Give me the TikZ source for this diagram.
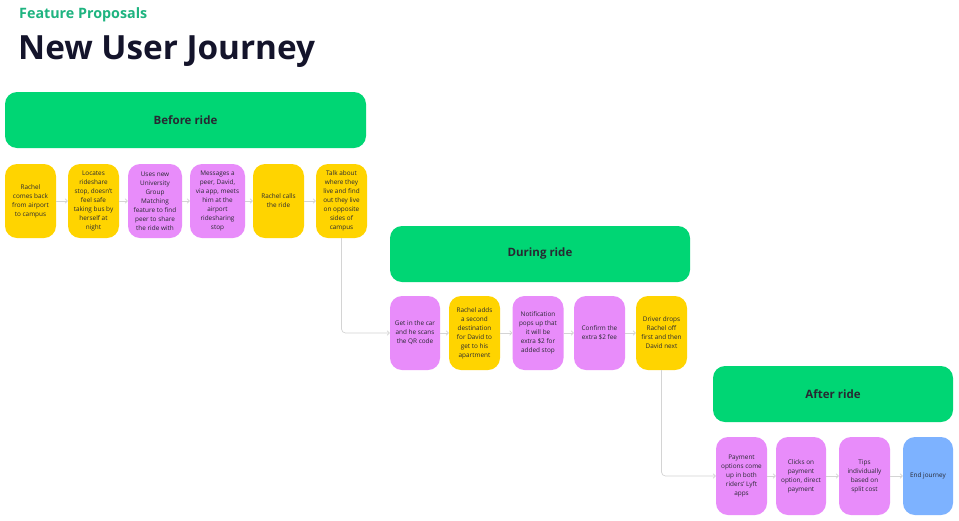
\documentclass[tikz,border=0pt]{standalone}
\usepackage{fontspec}
\setmainfont{Open Sans}
\newfontfamily\titlefont{Open Sans}
\usetikzlibrary{arrows.meta}
\definecolor{bargreen}{RGB}{0,214,116}
\definecolor{cardyellow}{RGB}{255,212,0}
\definecolor{cardpink}{RGB}{232,140,250}
\definecolor{cardblue}{RGB}{125,178,255}
\definecolor{titledark}{RGB}{20,20,43}
\definecolor{subgreen}{RGB}{30,180,128}
\definecolor{textdark}{RGB}{40,40,50}
\definecolor{connline}{RGB}{212,212,212}
\tikzset{
  phasebar/.style={fill=bargreen, draw=none, rounded corners=12pt, inner sep=0pt,
    font=\fontsize{11.5}{14}\selectfont\bfseries, text=textdark},
  card/.style={draw=none, rounded corners=12pt, inner sep=0pt, minimum height=74pt,
    align=center, font=\fontsize{6.4}{9}\selectfont, text=textdark},
  ycard/.style={card, fill=cardyellow},
  pcard/.style={card, fill=cardpink},
  bcard/.style={card, fill=cardblue},
  conn/.style={draw=connline, line width=0.7pt, -{Straight Barb[length=2.2pt,width=4.5pt]}},
}
\begin{document}
\begin{tikzpicture}[x=1pt,y=-1pt]
\useasboundingbox[fill=white] (0,0) rectangle (959,520);
\node[anchor=base west, inner sep=0pt, text=subgreen, font=\titlefont\fontsize{14.3}{16}\selectfont\bfseries] (sub) at (19,18) {Feature Proposals};
\node[anchor=base west, inner sep=0pt, text=titledark, font=\titlefont\fontsize{33.3}{38}\selectfont\bfseries] (title) at (18,59.5) {New User Journey};

% phase bars
\node[phasebar, minimum width=361pt, minimum height=56pt] (pb) at (185.5,120) {Before ride};
\node[phasebar, minimum width=300pt, minimum height=56pt] (pd) at (540,254) {During ride};
\node[phasebar, minimum width=240pt, minimum height=56pt] (pa) at (833,394) {After ride};

% before cards
\node[ycard, minimum width=51pt] (b1) at (30.5,201) {Rachel\\comes back\\from airport\\to campus};
\node[ycard, minimum width=51pt] (b2) at (93.5,201) {Locates\\rideshare\\stop, doesn't\\feel safe\\taking bus by\\herself at\\night};
\node[pcard, minimum width=54pt] (b3) at (155,201) {Uses new\\University\\Group\\Matching\\feature to find\\peer to share\\the ride with};
\node[pcard, minimum width=55pt] (b4) at (217.5,201) {Messages a\\peer, David,\\via app, meets\\him at the\\airport\\ridesharing\\stop};
\node[ycard, minimum width=51pt] (b5) at (278.5,201) {Rachel calls\\the ride};
\node[ycard, minimum width=51pt] (b6) at (341.5,201) {Talk about\\where they\\live and find\\out they live\\on opposite\\sides of\\campus};

% during cards
\node[pcard, minimum width=50pt] (d1) at (415,333) {Get in the car\\and he scans\\the QR code};
\node[ycard, minimum width=51pt] (d2) at (474.5,333) {Rachel adds\\a second\\destination\\for David to\\get to his\\apartment};
\node[pcard, minimum width=51pt] (d3) at (538,333) {Notification\\pops up that\\it will be\\extra \$2 for\\added stop};
\node[pcard, minimum width=51pt] (d4) at (599.5,333) {Confirm the\\extra \$2 fee};
\node[ycard, minimum width=51pt] (d5) at (661.5,333) {Driver drops\\Rachel off\\first and then\\David next};

% after cards
\node[pcard, minimum width=51pt, minimum height=78pt] (a1) at (741.5,476) {Payment\\options come\\up in both\\riders' Lyft\\apps};
\node[pcard, minimum width=50pt, minimum height=78pt] (a2) at (801,476) {Clicks on\\payment\\option, direct\\payment};
\node[pcard, minimum width=51pt, minimum height=78pt] (a3) at (864.5,476) {Tips\\individually\\based on\\split cost};
\node[bcard, minimum width=50pt, minimum height=78pt] (a4) at (928,476) {End journey};

% connectors
\draw[conn] (b1.east) -- (b2.west);
\draw[conn] (b2.east) -- (b3.west);
\draw[conn] (b3.east) -- (b4.west);
\draw[conn] (b4.east) -- (b5.west);
\draw[conn] (b5.east) -- (b6.west);
\draw[conn, rounded corners=4pt] (b6.south) |- (d1.west);
\draw[conn] (d1.east) -- (d2.west);
\draw[conn] (d2.east) -- (d3.west);
\draw[conn] (d3.east) -- (d4.west);
\draw[conn] (d4.east) -- (d5.west);
\draw[conn, rounded corners=4pt] (d5.south) |- (a1.west);
\draw[conn] (a1.east) -- (a2.west);
\draw[conn] (a2.east) -- (a3.west);
\draw[conn] (a3.east) -- (a4.west);
\end{tikzpicture}
\end{document}
